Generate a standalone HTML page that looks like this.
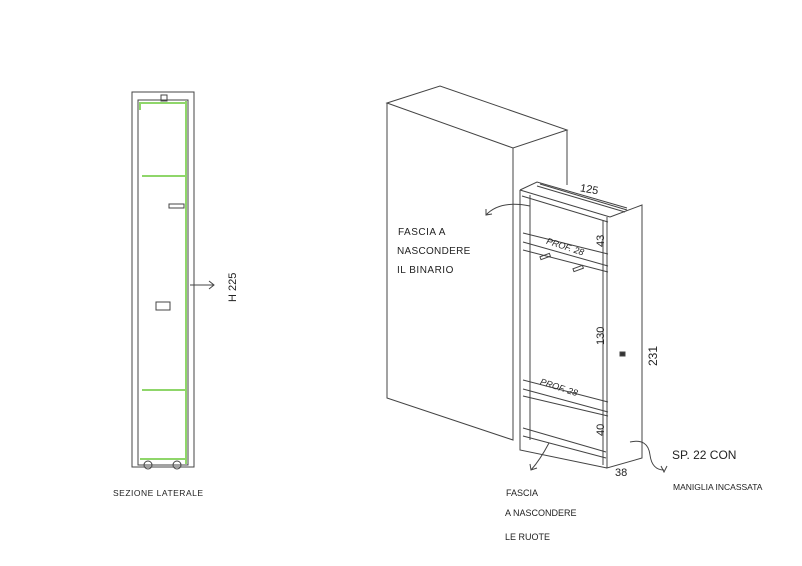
<!DOCTYPE html>
<html><head><style>
body{margin:0;background:#fff;}
svg{display:block}
text{font-family:"Liberation Sans",sans-serif;fill:#222;}
</style></head><body>
<svg width="802" height="566" viewBox="0 0 802 566" xmlns="http://www.w3.org/2000/svg" fill="none" stroke="#444" stroke-width="1">
<!-- left section -->
<rect x="132" y="92" width="62" height="375"/>
<rect x="138" y="100" width="50" height="365"/>
<line x1="186" y1="101" x2="186" y2="464" stroke="#8fd66a" stroke-width="2"/>
<line x1="139" y1="103" x2="187" y2="103" stroke="#8fd66a" stroke-width="2"/>
<line x1="140" y1="103" x2="140" y2="110" stroke="#8fd66a" stroke-width="2"/>
<rect x="161" y="95" width="6" height="6"/>
<line x1="142" y1="176" x2="185" y2="176" stroke="#8fd66a" stroke-width="2"/>
<line x1="142" y1="390" x2="185" y2="390" stroke="#8fd66a" stroke-width="2"/>
<line x1="140" y1="459" x2="185" y2="459" stroke="#8fd66a" stroke-width="2"/>
<rect x="169" y="204" width="15" height="4"/>
<rect x="156" y="302" width="14" height="8"/>
<circle cx="148" cy="465" r="4"/><circle cx="177" cy="465" r="4"/>
<path d="M190 285 L214 285 M209 281 L214 285 L209 289"/>
<text x="0" y="0" font-size="11" stroke="none" transform="translate(236,302) rotate(-90)">H 225</text>
<text x="113" y="496" font-size="8.5" letter-spacing="0.5" stroke="none">SEZIONE LATERALE</text>

<!-- big box -->
<path d="M387 103 L440 86 L567 130 L513 148 Z"/>
<path d="M387 103 L387 398 L513 440 L513 148"/>
<path d="M567 130 L567 185"/>
<!-- drawer -->
<path d="M520 190 L537 182 L627 208"/>
<path d="M520 190 L520 450 L607 468"/>
<path d="M530 195 L530 440"/>
<path d="M520 190 L610 217"/>
<path d="M522 196 L608 222"/>
<path d="M537 186 L625 212 M540 184 L627 210"/>
<path d="M610 217 L642 205 L642 458 L607 468 L607 217"/>
<path d="M603 220 L603 465"/>
<path d="M523 233 L608 254 M523 242 L608 266 M523 250 L608 272"/>
<path d="M523 380 L608 402 M523 389 L608 412 M523 396 L608 416"/>
<path d="M523 428 L606 452 M523 436 L606 458"/>
<rect x="540" y="255" width="10" height="3" transform="rotate(-20 545 256)"/>
<rect x="573" y="267" width="10" height="3" transform="rotate(-20 578 268)"/>
<rect x="620" y="352" width="5" height="4" fill="#333"/>
<text x="580" y="193" font-size="11" stroke="none" transform="rotate(10 590 190)">125</text>
<text x="546" y="248" font-size="9" font-style="italic" stroke="none" transform="rotate(18 560 245)">PROF. 28</text>
<text x="540" y="389" font-size="9" font-style="italic" stroke="none" transform="rotate(18 555 385)">PROF. 28</text>
<text x="0" y="0" font-size="11" stroke="none" transform="translate(604,247) rotate(-90)">43</text>
<text x="0" y="0" font-size="11" stroke="none" transform="translate(604,345) rotate(-90)">130</text>
<text x="0" y="0" font-size="11" stroke="none" transform="translate(604,436) rotate(-90)">40</text>
<text x="0" y="0" font-size="12" stroke="none" transform="translate(657,366) rotate(-90)">231</text>
<text x="615" y="476" font-size="11" stroke="none">38</text>
<!-- arrows -->
<path d="M530 206 Q500 200 486 215 M486 209 L486 215 L492 214"/>
<path d="M549 443 Q540 460 531 470 M530 464 L531 470 L537 468"/>
<path d="M630 442 Q648 438 650 455 Q652 470 664 470 M661 466 L664 472 L667 466"/>
<text x="398" y="235" font-size="10" letter-spacing="0.5" stroke="none">FASCIA  A</text>
<text x="397" y="254" font-size="10" letter-spacing="0.3" stroke="none">NASCONDERE</text>
<text x="397" y="273" font-size="10" letter-spacing="0.5" stroke="none">IL BINARIO</text>
<text x="506" y="496" font-size="9" stroke="none">FASCIA</text>
<text x="505" y="516" font-size="9" stroke="none">A  NASCONDERE</text>
<text x="505" y="540" font-size="9" stroke="none">LE  RUOTE</text>
<text x="672" y="459" font-size="12" stroke="none">SP. 22  CON</text>
<text x="673" y="490" font-size="8.5" stroke="none">MANIGLIA INCASSATA</text>
</svg>
</body></html>
